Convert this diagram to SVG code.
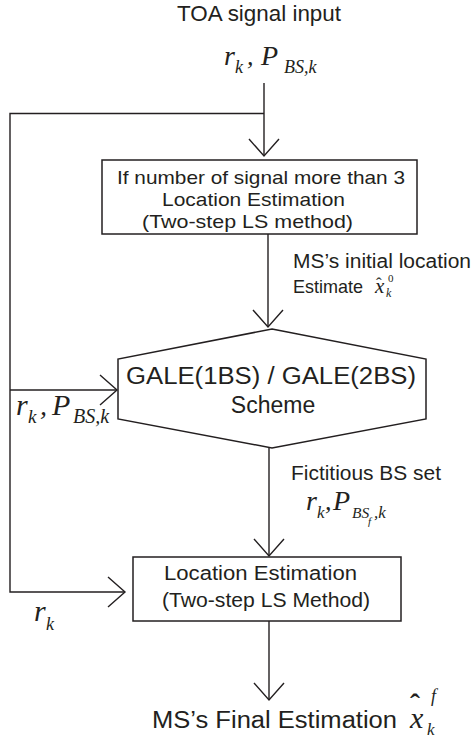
<svg xmlns="http://www.w3.org/2000/svg" width="472" height="740" viewBox="0 0 472 740">
  <style>
    .ln { stroke:#231f20; stroke-width:1.4; fill:none; }
    .box { fill:#ffffff; stroke:#231f20; stroke-width:1.5; }
    .t { font-family:"Liberation Sans", Arial, sans-serif; fill:#231f20; }
    .m { font-family:"Liberation Serif", "Times New Roman", serif; font-style:italic; fill:#231f20; }
    .u { font-family:"Liberation Serif", "Times New Roman", serif; fill:#231f20; }
    .c { text-anchor:middle; }
  </style>
  <defs>
    <!-- open chevron arrowhead -->
    <marker id="chev" viewBox="-20 -18 24 36" markerWidth="24" markerHeight="36" refX="0" refY="0" orient="auto" markerUnits="userSpaceOnUse">
      <path d="M-17,-15 L0,0 L-17,15" fill="none" stroke="#231f20" stroke-width="1.4"/>
    </marker>
  </defs>

  <rect width="472" height="740" fill="#ffffff"/>

  <!-- input -->
  <g id="input">
    <text class="t" x="177" y="21" font-size="22.5" textLength="164" lengthAdjust="spacingAndGlyphs">TOA signal input</text>
    <text class="m" x="224" y="65" font-size="28">r</text>
    <text class="m" x="235" y="73" font-size="18">k</text>
    <text class="m" x="247" y="65" font-size="26">,</text>
    <text class="m" x="261" y="65" font-size="28">P</text>
    <text class="m" x="284" y="73" font-size="18">BS,k</text>
  </g>

  <!-- connectors -->
  <g id="connectors">
    <path class="ln" d="M264,83 V156" marker-end="url(#chev)"/>
    <path class="ln" d="M264,113.5 H10 V592 H125" marker-end="url(#chev)"/>
    <path class="ln" d="M268,234 V327" marker-end="url(#chev)"/>
    <path class="ln" d="M10,390 H117" marker-end="url(#chev)"/>
    <path class="ln" d="M269,448 V556" marker-end="url(#chev)"/>
    <path class="ln" d="M269,621 V700" marker-end="url(#chev)"/>
  </g>

  <!-- first location estimate -->
  <g id="ls1">
    <rect class="box" x="102" y="160" width="315" height="74"/>
    <text class="t" x="117" y="184" font-size="19" textLength="288" lengthAdjust="spacingAndGlyphs">If number of signal more than 3</text>
    <text class="t" x="162" y="206" font-size="19" textLength="183" lengthAdjust="spacingAndGlyphs">Location Estimation</text>
    <text class="t" x="142" y="228" font-size="19" textLength="211" lengthAdjust="spacingAndGlyphs">(Two-step LS method)</text>
  </g>

  <!-- initial location label -->
  <g id="label-initial">
    <text class="t" x="293" y="268" font-size="20" textLength="178" lengthAdjust="spacingAndGlyphs">MS’s initial location</text>
    <text class="t" x="293" y="293" font-size="19" textLength="70" lengthAdjust="spacingAndGlyphs">Estimate</text>
    <text class="m" x="375" y="293" font-size="21">x</text>
    <text class="m" x="386" y="297" font-size="12">k</text>
    <text class="u" x="376" y="289" font-size="17">ˆ</text>
    <text class="u" x="388" y="282" font-size="11">0</text>
  </g>

  <!-- GALE scheme -->
  <g id="gale">
    <polygon class="box" points="272,329 426,359 426,419 272,448 118,419 118,359"/>
    <text class="t c" x="271" y="384" font-size="23" textLength="290" lengthAdjust="spacingAndGlyphs">GALE(1BS) / GALE(2BS)</text>
    <text class="t c" x="273" y="413" font-size="23">Scheme</text>
  </g>

  <!-- side input to GALE -->
  <g id="label-side">
    <text class="m" x="16" y="415" font-size="30">r</text>
    <text class="m" x="28" y="423" font-size="19">k</text>
    <text class="m" x="40" y="415" font-size="28">,</text>
    <text class="m" x="52" y="415" font-size="30">P</text>
    <text class="m" x="73" y="423" font-size="20">BS,k</text>
  </g>

  <!-- fictitious BS label -->
  <g id="label-fict">
    <text class="t" x="291" y="480" font-size="20" textLength="150" lengthAdjust="spacingAndGlyphs">Fictitious BS set</text>
    <text class="m" x="306" y="510" font-size="28">r</text>
    <text class="m" x="317" y="518" font-size="17">k</text>
    <text class="m" x="325" y="510" font-size="26">,</text>
    <text class="m" x="333" y="510" font-size="28">P</text>
    <text class="m" x="352" y="518" font-size="15.5">BS</text>
    <text class="m" x="368" y="525" font-size="11">f</text>
    <text class="m" x="374" y="518" font-size="17">,k</text>
  </g>

  <!-- final location estimate -->
  <g id="ls2">
    <rect class="box" x="133" y="557" width="268" height="64"/>
    <text class="t" x="164" y="580" font-size="20" textLength="193" lengthAdjust="spacingAndGlyphs">Location Estimation</text>
    <text class="t" x="162" y="607" font-size="20" textLength="208" lengthAdjust="spacingAndGlyphs">(Two-step LS Method)</text>
  </g>

  <!-- r_k into final estimate -->
  <g id="label-rk">
    <text class="m" x="34" y="621" font-size="30">r</text>
    <text class="m" x="46" y="630" font-size="18">k</text>
  </g>

  <!-- output -->
  <g id="output">
    <text class="t" x="152" y="728" font-size="23" textLength="245" lengthAdjust="spacingAndGlyphs">MS’s Final Estimation</text>
    <text class="m" x="410" y="728" font-size="30">x</text>
    <text class="m" x="427" y="735" font-size="17">k</text>
    <text class="u" x="410" y="714" font-size="30" font-weight="bold">ˆ</text>
    <text class="m" x="431" y="702" font-size="18">f</text>
  </g>
</svg>
